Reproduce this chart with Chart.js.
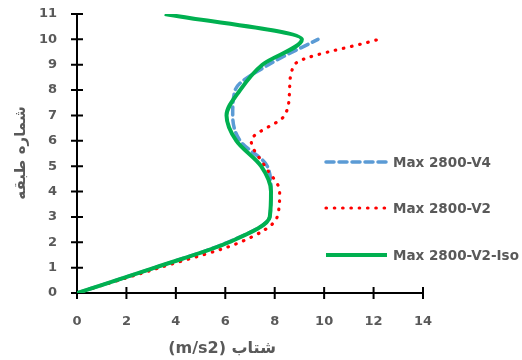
<!DOCTYPE html>
<html>
<head>
<meta charset="utf-8">
<script src="https://cdn.jsdelivr.net/npm/chart.js@4.4.1/dist/chart.umd.min.js"></script>
<style>
  html, body { margin: 0; padding: 0; background: #fff; }
  #wrap { width: 522px; height: 360px; position: relative; }
</style>
</head>
<body>
<div id="wrap"><canvas id="accelChart"></canvas></div>
<script>
// story numbers (y) and max acceleration (x, m/s2)
const stories = [0, 1, 2, 3, 4, 5, 6, 7, 8, 9, 10];
const storiesIso = [0, 1, 2, 3, 4, 5, 6, 7, 8, 9, 10, 11];
const accV4 = [0, 3.15, 6.1, 7.8, 7.85, 7.7, 6.6, 6.3, 6.4, 7.75, 9.75];
const accV2 = [0, 3.35, 6.6, 8.1, 8.2, 7.6, 7.05, 8.4, 8.6, 8.8, 12.2];
const accIso = [0, 3.15, 6.15, 7.8, 7.85, 7.45, 6.45, 6.05, 6.6, 7.5, 9.1, 3.55];
const seriesNames = ["Max 2800-V4", "Max 2800-V2", "Max 2800-V2-Iso"];
const xTitle = "شتاب (m/s2)";
const yTitle = "شماره طبقه";

const gray = "#595959";
const labelFont = "'DejaVu Sans', sans-serif";

function toPoints(xs, ys) {
  return xs.map((x, i) => ({ x: x, y: ys[i] }));
}

const axisDecor = {
  id: "axisDecor",
  beforeDatasetsDraw(chart) {
    const ctx = chart.ctx;
    const area = chart.chartArea;
    const xs = chart.scales.x, ys = chart.scales.y;
    ctx.save();
    ctx.strokeStyle = "#000";
    ctx.lineWidth = 2;
    ctx.beginPath();
    ctx.moveTo(area.left, area.top - 1);
    ctx.lineTo(area.left, area.bottom);
    ctx.lineTo(area.right, area.bottom);
    ctx.stroke();
    ctx.beginPath();
    xs.ticks.forEach(t => {
      const px = xs.getPixelForValue(t.value);
      ctx.moveTo(px, area.bottom - 6);
      ctx.lineTo(px, area.bottom + 6);
    });
    ys.ticks.forEach(t => {
      const py = ys.getPixelForValue(t.value);
      ctx.moveTo(area.left - 6, py);
      ctx.lineTo(area.left + 6, py);
    });
    ctx.stroke();
    ctx.restore();
  },
  afterDraw(chart) {
    const ctx = chart.ctx;
    const datasets = chart.data.datasets;
    ctx.save();
    // legend (sits inside the plot on the right)
    const rowsY = [162, 208, 255];
    datasets.forEach((ds, i) => {
      const y = rowsY[i];
      ctx.strokeStyle = ds.borderColor;
      ctx.lineWidth = ds.borderWidth;
      ctx.lineCap = ds.borderCapStyle || "butt";
      ctx.setLineDash(ds.borderDash || []);
      ctx.beginPath();
      ctx.moveTo(326, y);
      ctx.lineTo(387, y);
      ctx.stroke();
      ctx.setLineDash([]);
      ctx.fillStyle = gray;
      ctx.font = "bold 13.5px " + labelFont;
      ctx.textAlign = "left";
      ctx.textBaseline = "middle";
      ctx.fillText(ds.label, 393, y + 1);
    });
    // axis titles
    ctx.fillStyle = gray;
    ctx.direction = "rtl";
    ctx.font = "bold 16px " + labelFont;
    ctx.textAlign = "center";
    ctx.textBaseline = "middle";
    ctx.fillText(xTitle, 222, 349);
    ctx.translate(21, 153);
    ctx.rotate(-Math.PI / 2);
    ctx.font = "bold 15px " + labelFont;
    ctx.fillText(yTitle, 0, 0);
    ctx.restore();
  }
};

new Chart(document.getElementById("accelChart"), {
  type: "scatter",
  data: {
    datasets: [
      {
        label: seriesNames[0],
        data: toPoints(accV4, stories),
        showLine: true,
        borderColor: "#5B9BD5",
        borderWidth: 3.5,
        borderDash: [8, 5],
        borderCapStyle: "round",
        pointRadius: 0,
        cubicInterpolationMode: "monotone",
        order: 2
      },
      {
        label: seriesNames[1],
        data: toPoints(accV2, stories),
        showLine: true,
        borderColor: "#FF0000",
        borderWidth: 3.2,
        borderDash: [0.5, 7.8],
        borderCapStyle: "round",
        pointRadius: 0,
        cubicInterpolationMode: "monotone",
        order: 1
      },
      {
        label: seriesNames[2],
        data: toPoints(accIso, storiesIso),
        showLine: true,
        borderColor: "#00B050",
        borderWidth: 4,
        pointRadius: 0,
        cubicInterpolationMode: "monotone",
        order: 0
      }
    ]
  },
  options: {
    indexAxis: "y",
    responsive: true,
    maintainAspectRatio: false,
    animation: false,
    layout: { padding: { top: 14, right: 99, left: 0, bottom: 0 } },
    plugins: {
      legend: { display: false },
      tooltip: { enabled: false }
    },
    scales: {
      x: {
        type: "linear",
        min: 0,
        max: 14,
        ticks: { stepSize: 2, color: gray, font: { family: labelFont, size: 13, weight: "bold" }, padding: 21, maxRotation: 0 },
        grid: { display: false, drawTicks: false },
        border: { display: false },
        afterFit(scale) { scale.height = 67; }
      },
      y: {
        type: "linear",
        min: 0,
        max: 11,
        ticks: { stepSize: 1, color: gray, font: { family: labelFont, size: 13, weight: "bold" }, padding: 20 },
        grid: { display: false, drawTicks: false },
        border: { display: false },
        afterFit(scale) {
          scale.width = 77;
          scale.paddingTop = 0;
          scale.paddingBottom = 0;
        }
      }
    }
  },
  plugins: [axisDecor]
});
</script>
</body>
</html>
